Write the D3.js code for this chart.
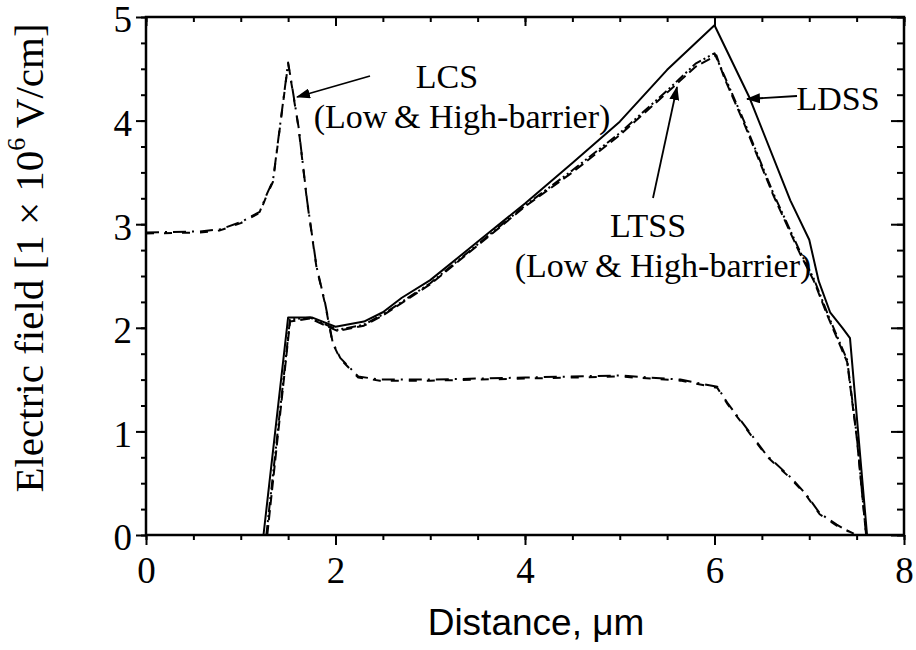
<!DOCTYPE html>
<html>
<head>
<meta charset="utf-8">
<script src="https://cdn.jsdelivr.net/npm/d3@7"></script>
<style>
  html, body { margin: 0; padding: 0; background: #fff; }
  svg { display: block; }
</style>
</head>
<body>
<svg id="chart" width="916" height="650"></svg>
<script>
// Electric field profiles along the device (distance in µm, field in 1e6 V/cm)
const ldss = [
  [1.24, 0], [1.50, 2.10], [1.75, 2.10], [2.00, 2.01], [2.30, 2.06], [2.50, 2.15],
  [2.70, 2.29], [3.00, 2.46], [3.50, 2.83], [4.00, 3.20], [4.50, 3.59], [5.00, 3.99],
  [5.50, 4.49], [6.00, 4.92], [6.37, 4.22], [6.80, 3.23], [7.00, 2.85], [7.10, 2.45],
  [7.22, 2.15], [7.35, 2.00], [7.43, 1.90], [7.61, 0]
];
const ltssLow = [
  [1.28, 0], [1.52, 2.06], [1.73, 2.09], [2.02, 1.97], [2.30, 2.02], [2.50, 2.12],
  [3.00, 2.42], [3.60, 2.87], [4.00, 3.17], [4.50, 3.50], [5.00, 3.86], [5.50, 4.27],
  [5.80, 4.52], [6.02, 4.63], [6.10, 4.42], [6.30, 4.00], [6.62, 3.28], [6.90, 2.72],
  [7.05, 2.45], [7.20, 2.10], [7.40, 1.67], [7.50, 0.95], [7.60, 0]
];
const ltssHigh = [
  [1.27, 0], [1.52, 2.08], [1.73, 2.10], [2.02, 1.98], [2.30, 2.03], [2.50, 2.13],
  [3.00, 2.43], [3.60, 2.88], [4.00, 3.18], [4.50, 3.52], [5.00, 3.88], [5.50, 4.29],
  [5.80, 4.55], [6.00, 4.65], [6.10, 4.44], [6.30, 4.02], [6.62, 3.30], [6.90, 2.74],
  [7.05, 2.47], [7.20, 2.12], [7.40, 1.69], [7.50, 0.97], [7.60, 0]
];
const lcsLow = [
  [0.00, 2.92], [0.57, 2.93], [0.78, 2.95], [1.00, 3.02], [1.20, 3.12], [1.28, 3.30],
  [1.34, 3.42], [1.50, 4.56], [1.54, 4.34], [1.61, 3.94], [1.70, 3.23], [1.80, 2.59],
  [1.89, 2.24], [1.97, 1.86], [2.05, 1.71], [2.24, 1.53], [2.47, 1.50], [3.00, 1.50],
  [4.00, 1.52], [5.00, 1.54], [5.64, 1.50], [6.03, 1.43], [6.14, 1.27], [6.34, 1.03],
  [6.55, 0.77], [6.80, 0.56], [6.97, 0.39], [7.11, 0.21], [7.29, 0.10], [7.48, 0]
];
const lcsHigh = [
  [0.00, 2.91], [0.57, 2.92], [0.78, 2.94], [1.00, 3.01], [1.20, 3.11], [1.28, 3.29],
  [1.34, 3.41], [1.50, 4.55], [1.54, 4.33], [1.61, 3.93], [1.70, 3.22], [1.80, 2.58],
  [1.89, 2.23], [1.97, 1.85], [2.05, 1.70], [2.24, 1.52], [2.47, 1.49], [3.00, 1.49],
  [4.00, 1.51], [5.00, 1.53], [5.64, 1.49], [6.03, 1.42], [6.14, 1.26], [6.34, 1.02],
  [6.55, 0.76], [6.80, 0.55], [6.97, 0.38], [7.11, 0.20], [7.29, 0.09], [7.50, 0]
];

const xMajor = [0, 2, 4, 6, 8];
const yMajor = [0, 1, 2, 3, 4, 5];
const xMinor = d3.range(0, 8.001, 0.5);
const yMinor = d3.range(0, 5.001, 0.25);

const xTitle = "Distance, \u03bcm";

const svg = d3.select("#chart");
const plotL = 146, plotR = 904, plotT = 17, plotB = 535;

const x = d3.scaleLinear().domain([0, 8]).range([plotL, plotR]);
const y = d3.scaleLinear().domain([0, 5]).range([plotB, plotT]);

const serif = "'Liberation Serif', 'Times New Roman', serif";
const sans = "'Liberation Sans', Arial, sans-serif";

// arrow head marker
svg.append("defs").append("marker")
  .attr("id", "head")
  .attr("viewBox", "0 0 14 10")
  .attr("refX", 13).attr("refY", 5)
  .attr("markerWidth", 14).attr("markerHeight", 10)
  .attr("markerUnits", "userSpaceOnUse")
  .attr("orient", "auto")
  .append("path").attr("d", "M0,0 L14,5 L0,10 Z").attr("fill", "#000");

// curves
const line = d3.line().x(d => x(d[0])).y(d => y(d[1]));
const curves = [
  { data: lcsLow, dash: "13,6,2,6" },
  { data: lcsHigh, dash: "8,10" },
  { data: ltssLow, dash: "10,5" },
  { data: ltssHigh, dash: "10,3,2,3,2,3" },
  { data: ldss, dash: null }
];
svg.append("g").selectAll("path").data(curves).join("path")
  .attr("d", d => line(d.data))
  .attr("fill", "none")
  .attr("stroke", "#000")
  .attr("stroke-width", 2)
  .attr("stroke-linejoin", "round")
  .attr("stroke-dasharray", d => d.dash);

// axes: outward ticks on bottom/left, mirrored inward ticks on top/right
const axisG = svg.append("g");
function styleAxis(g) {
  g.select(".domain").remove();
  g.selectAll("line").attr("stroke", "#000").attr("stroke-width", 2);
}
axisG.append("g").attr("transform", `translate(0,${plotB})`)
  .call(d3.axisBottom(x).tickValues(xMinor).tickSize(5).tickFormat(""))
  .call(styleAxis);
axisG.append("g").attr("transform", `translate(0,${plotB})`)
  .call(d3.axisBottom(x).tickValues(xMajor).tickSize(10).tickPadding(12).tickFormat(d3.format("d")))
  .call(styleAxis)
  .call(g => g.selectAll("text").attr("font-family", serif).attr("font-size", 37).attr("fill", "#000"));
axisG.append("g").attr("transform", `translate(${plotL},0)`)
  .call(d3.axisLeft(y).tickValues(yMinor).tickSize(5).tickFormat(""))
  .call(styleAxis);
axisG.append("g").attr("transform", `translate(${plotL},0)`)
  .call(d3.axisLeft(y).tickValues(yMajor).tickSize(10).tickPadding(4).tickFormat(d3.format("d")))
  .call(styleAxis)
  .call(g => g.selectAll("text").attr("font-family", serif).attr("font-size", 37).attr("fill", "#000").attr("dy", "0.4em"));
axisG.append("g").attr("transform", `translate(0,${plotT})`)
  .call(d3.axisBottom(x).tickValues(xMinor).tickSize(5).tickFormat(""))
  .call(styleAxis);
axisG.append("g").attr("transform", `translate(0,${plotT})`)
  .call(d3.axisBottom(x).tickValues(xMajor).tickSize(9).tickFormat(""))
  .call(styleAxis);
axisG.append("g").attr("transform", `translate(${plotR},0)`)
  .call(d3.axisLeft(y).tickValues(yMinor).tickSize(7).tickFormat(""))
  .call(styleAxis);
axisG.append("g").attr("transform", `translate(${plotR},0)`)
  .call(d3.axisLeft(y).tickValues(yMajor).tickSize(13).tickFormat(""))
  .call(styleAxis);

// frame
svg.append("rect")
  .attr("x", plotL).attr("y", plotT)
  .attr("width", plotR - plotL).attr("height", plotB - plotT)
  .attr("fill", "none").attr("stroke", "#000").attr("stroke-width", 2.5);

// axis titles
svg.append("text")
  .attr("x", 536).attr("y", 635)
  .attr("text-anchor", "middle")
  .attr("font-family", sans).attr("font-size", 37)
  .text(xTitle);

const yt = svg.append("text")
  .attr("transform", "translate(43,258) rotate(-90)")
  .attr("text-anchor", "middle")
  .attr("font-family", serif).attr("font-size", 41);
yt.append("tspan").text("Electric field [1 \u00d7 10");
yt.append("tspan").attr("font-size", 26).attr("dy", "-0.7em").text("6");
yt.append("tspan").attr("dy", "0.45em").text(" V/cm]");

// annotations
const ann = svg.append("g").attr("font-family", serif).attr("font-size", 34).attr("fill", "#000");
ann.append("text").attr("x", 447).attr("y", 88).attr("text-anchor", "middle").text("LCS");
ann.append("text").attr("x", 462).attr("y", 128).attr("text-anchor", "middle").text("(Low\u2009& High-barrier)");
ann.append("text").attr("x", 838).attr("y", 110).attr("text-anchor", "middle").text("LDSS");
ann.append("text").attr("x", 648).attr("y", 237).attr("text-anchor", "middle").text("LTSS");
ann.append("text").attr("x", 663).attr("y", 277).attr("text-anchor", "middle").text("(Low\u2009& High-barrier)");

const arrows = [
  [[370, 76], [297, 97]],
  [[797, 96], [747, 99]],
  [[653, 198], [677, 87]]
];
svg.append("g").selectAll("line").data(arrows).join("line")
  .attr("x1", d => d[0][0]).attr("y1", d => d[0][1])
  .attr("x2", d => d[1][0]).attr("y2", d => d[1][1])
  .attr("stroke", "#000").attr("stroke-width", 1.8)
  .attr("marker-end", "url(#head)");
</script>
</body>
</html>
